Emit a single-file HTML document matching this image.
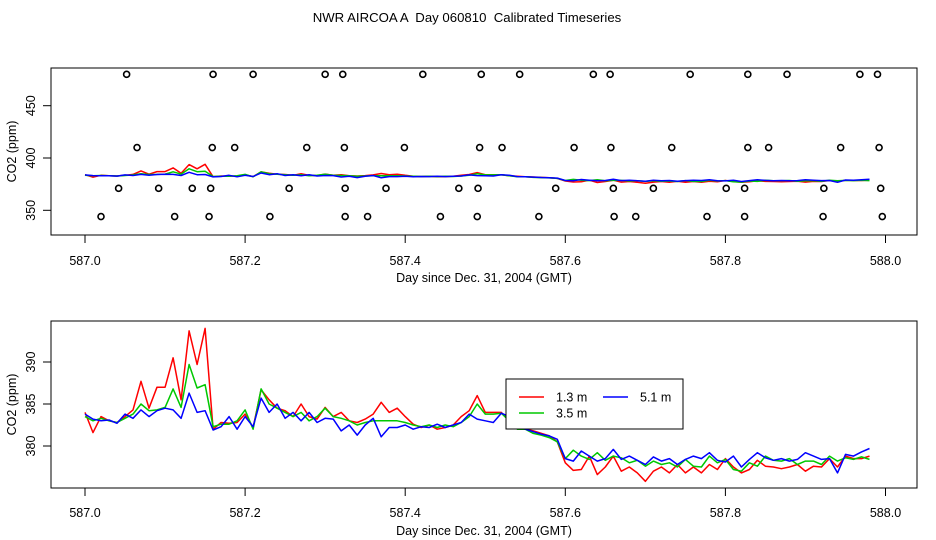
<!DOCTYPE html>
<html><head><meta charset="utf-8"><style>
html,body{margin:0;padding:0;background:#fff;}
svg{display:block;font-family:"Liberation Sans",Arial,sans-serif;}
text{white-space:pre;}
</style></head><body>
<svg id="chart" width="936" height="540" viewBox="0 0 936 540" xmlns="http://www.w3.org/2000/svg">
<rect x="0" y="0" width="936" height="540" fill="#fff"/>
<text x="467" y="22" text-anchor="middle" font-size="13.2" xml:space="preserve">NWR AIRCOA A  Day 060810  Calibrated Timeseries</text>
</svg>
<script>
const days = [];
for (let i = 0; i <= 98; i++) days.push(587 + i / 100);
const red = [384,381.6,383.5,383,382.8,383.5,384.3,387.7,384.5,387,387,390.5,385.5,393.7,389.7,394,382,382.8,382.7,382.8,383.8,382.2,386.7,385.5,384.5,384.2,383.5,385,383.5,383.2,384.6,383.5,384,383,382.8,383.2,383.8,385.2,384,384.5,383.5,382.6,382.2,382.5,382,382.2,382.5,383.5,384.2,386,384,384,384,383,382.5,382,381.8,381.5,381.2,380.5,378,377.1,377.2,378.8,376.6,377.5,378.8,377,377.5,376.8,375.8,377,377.5,376.8,377.8,376.8,377.5,376.8,377.8,377.2,378.5,377.5,376.8,377.2,378.3,377.6,377.5,377.3,377.5,377.8,377,377.6,377.5,378.5,377.5,378.8,378.5,378.5,378.8];
const green = [383.5,383,383.3,383,382.8,383.3,383.8,385,384.2,384.3,384.6,386.8,384.6,389.7,386.9,387.3,382.3,382.6,382.6,383,384.3,382,386.8,385,384.5,384,383.5,384,383,383.5,384.5,383.5,383.3,383,382.5,382.8,383,383,383,383,382.8,382.5,382.3,382.5,382.2,382.5,382.3,382.8,383.5,385,383.8,383.8,383.9,383,382,382,381.5,381.3,381,380.5,378.5,379.5,378.8,378.4,379.2,378.3,378.8,378.6,378,378.3,377.6,378.2,377.8,378,377.5,378.4,377.6,377.5,378.8,378,378.4,377.2,377,378,377.6,378.8,378.3,378.2,378.5,377.8,378.2,378.2,377.8,378.8,378.2,378.6,378.4,378.7,378.4];
const blue = [383.8,383.2,383,383.1,382.7,383.8,383.3,384.3,383.5,384.2,384.5,384.3,383.3,386.3,384,384.2,381.9,382.3,383.5,382,383.5,382.3,385.7,384,385,383.3,384,383,384,382.8,383.3,383.2,381.8,382.5,381.3,382.5,383.3,381.1,382.2,382.2,382.5,382,382.3,382.2,382.6,382.2,382.5,382.8,383.8,383.2,383,382.8,383.9,383.5,382.2,382,381.7,381.4,381.2,380.8,378.5,378.2,379.4,378.8,378.2,378.5,379.6,378.4,378.8,378.3,377.8,378.7,378.2,378.5,377.8,378.4,378.8,378.5,379.2,378.3,378.1,378.8,377.5,378.4,379.2,378.6,378.3,378.5,378.2,378.4,379.2,378.8,378.4,378.5,376.8,379,378.8,379.3,379.7];
const outlierDays = [587.052,587.160,587.210,587.300,587.322,587.422,587.495,587.543,587.635,587.656,587.756,587.828,587.877,587.968,587.990,
 587.065,587.159,587.187,587.277,587.324,587.399,587.493,587.521,587.611,587.657,587.733,587.828,587.854,587.944,587.992,
 587.042,587.092,587.134,587.157,587.255,587.325,587.376,587.467,587.491,587.588,587.660,587.710,587.801,587.824,587.923,587.994,
 587.020,587.112,587.155,587.231,587.325,587.353,587.444,587.490,587.567,587.661,587.688,587.777,587.824,587.922,587.996];
const outlierVals = [480,480,480,480,480,480,480,480,480,480,480,480,480,480,480,
 410,410,410,410,410,410,410,410,410,410,410,410,410,410,410,
 371,371,371,371,371,371,371,371,371,371,371,371,371,371,371,371,
 344,344,344,344,344,344,344,344,344,344,344,344,344,344,344];
const xTicks = [587.0,587.2,587.4,587.6,587.8,588.0];
const xTickLabels = ["587.0","587.2","587.4","587.6","587.8","588.0"];
const topYTicks = [350,400,450];
const botYTicks = [380,385,390];
const seriesNames = ["1.3 m","3.5 m","5.1 m"];

const NS = "http://www.w3.org/2000/svg";
const svg = document.getElementById('chart');
function mk(tag, attrs, parent) {
  const e = document.createElementNS(NS, tag);
  for (const k in attrs) e.setAttribute(k, attrs[k]);
  (parent || svg).appendChild(e);
  return e;
}
const X = d => 85 + (d - 587) * 800.5;
const panels = [
  {name:'top', top:68, bottom:235, y:v => 158 - (v - 400) * 1.046, ticks: topYTicks, titleY:282, tickLabY:265},
  {name:'bottom', top:321, bottom:488, y:v => 362 - (v - 390) * 8.4, ticks: botYTicks, titleY:535, tickLabY:517}
];
const colors = ['#ff0000','#00c800','#0000ff'];
const data = [red, green, blue];

panels.forEach(p => {
  const g = mk('g', {});
  
  
  data.forEach((s, si) => {
    let d = '';
    s.forEach((v, i) => { d += (i ? 'L' : 'M') + X(days[i]).toFixed(1) + ',' + p.y(v).toFixed(1); });
    const path = mk('path', {d: d, fill: 'none', stroke: colors[si], 'stroke-width': 1.5, 'stroke-linejoin':'round'}, g);
    
    
  });
  if (p.name === 'top') {
    outlierDays.forEach((d, i) => {
      const c = mk('circle', {cx: X(d), cy: p.y(outlierVals[i]), r: 3, fill: 'none', stroke: '#000', 'stroke-width': 1.6}, g);
      
      
    });
  }
  const box = mk('rect', {x: 51, y: p.top, width: 866, height: p.bottom - p.top, fill: 'none', stroke: '#000', 'stroke-width': 1}, g);
  
  
  const ax = mk('g', {}, g);
  
  
  mk('line', {x1: X(xTicks[0]), x2: X(xTicks[xTicks.length-1]), y1: p.bottom, y2: p.bottom, stroke:'#000'}, ax);
  xTicks.forEach((t, i) => {
    mk('line', {x1: X(t), x2: X(t), y1: p.bottom, y2: p.bottom + 8, stroke: '#000'}, ax);
    const tx = mk('text', {x: X(t), y: p.tickLabY, 'text-anchor': 'middle', 'font-size': 12.5}, ax);
    tx.textContent = xTickLabels[i];
    
    
  });
  const xt = mk('text', {x: 484, y: p.titleY, 'text-anchor': 'middle', 'font-size': 12.5}, g);
  xt.textContent = 'Day since Dec. 31, 2004 (GMT)';
  
  
  const ay = mk('g', {}, g);
  
  
  mk('line', {x1: 51, x2: 51, y1: p.y(p.ticks[0]), y2: p.y(p.ticks[p.ticks.length-1]), stroke:'#000'}, ay);
  p.ticks.forEach(t => {
    const yy = p.y(t);
    mk('line', {x1: 43, x2: 51, y1: yy, y2: yy, stroke: '#000'}, ay);
    const tx = mk('text', {x: 35, y: yy, 'text-anchor': 'middle', 'font-size': 12.5, transform: 'rotate(-90 35 ' + yy + ')'}, ay);
    tx.textContent = String(t);
    
    
  });
  const cy = (p.top + p.bottom) / 2;
  const yt = mk('text', {x: 16, y: cy, 'text-anchor': 'middle', 'font-size': 12.5, transform: 'rotate(-90 16 ' + cy + ')'}, g);
  yt.textContent = 'CO2 (ppm)';
  
  
});

const lg = mk('g', {});


mk('rect', {x: 506, y: 379, width: 177, height: 50, fill: '#fff', stroke: '#000'}, lg);
const entries = [[519, 397], [519, 413], [603, 397]];
[0, 1, 2].forEach(i => {
  const [lx, ly] = entries[i];
  const e = mk('g', {}, lg);
  
  
  mk('line', {x1: lx, x2: lx + 25, y1: ly, y2: ly, stroke: colors[i], 'stroke-width': 1.5}, e);
  const t = mk('text', {x: lx + 37, y: ly + 4.5, 'font-size': 12.5}, e);
  t.textContent = seriesNames[i];
});
</script>
</body></html>
